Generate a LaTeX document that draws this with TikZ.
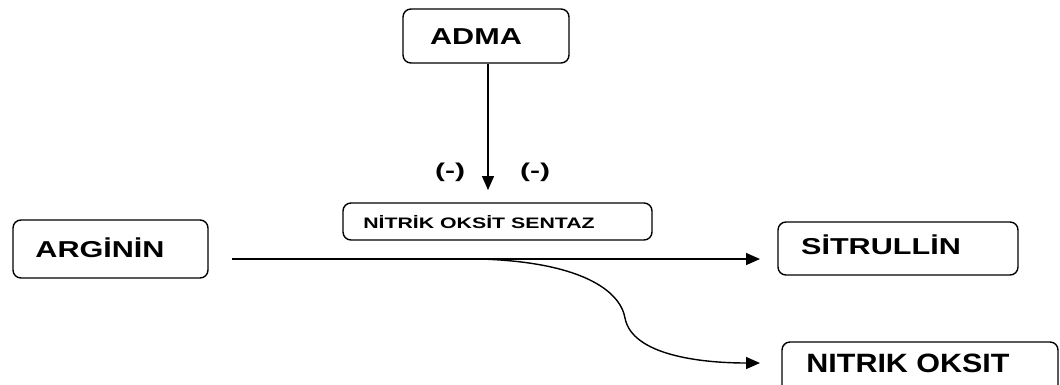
\documentclass[tikz,border=0pt]{standalone}
\usepackage{fontspec}
\setmainfont{Liberation Sans}
\newfontfamily\widefont[FakeStretch=1.33]{Liberation Sans}
\newfontfamily\xwidefont[FakeStretch=1.5]{Liberation Sans}
\newfontfamily\smallfont[FakeStretch=1.4]{Liberation Sans}
\newfontfamily\midfont[FakeStretch=1.15]{Liberation Sans}
\usetikzlibrary{arrows.meta}
\begin{document}
\begin{tikzpicture}[x=1pt,y=-1pt,
  box/.style={draw, line width=1.4pt, rounded corners=8pt, inner sep=0pt},
  big/.style={font=\widefont\bfseries\fontsize{23}{23}\selectfont, inner sep=0pt},
  small/.style={font=\smallfont\bfseries\fontsize{15.2}{15.2}\selectfont, inner sep=0pt},
  sign/.style={font=\xwidefont\bfseries\fontsize{20}{20}\selectfont, inner sep=0pt},
  conn/.style={line width=1.4pt, -{Triangle[length=14pt,width=12pt]}}]
\useasboundingbox (0,0) rectangle (1060,384);
\clip (0,0) rectangle (1060,384);
% boxes
\node[box, minimum width=166, minimum height=54] (adma) at (486,36) {};
\node[big] (admaT) at (476,37) {ADMA};
\node[box, minimum width=309, minimum height=37] (nos) at (497.5,221.5) {};
\node[small] (nosT) at (479,222) {NİTRİK OKSİT SENTAZ};
\node[box, minimum width=195, minimum height=58] (arg) at (110.5,249) {};
\node[big] (argT) at (100,248) {ARGİNİN};
\node[box, minimum width=240, minimum height=53] (sit) at (898,248.5) {};
\node[big] (sitT) at (881,245) {SİTRULLİN};
\node[box, minimum width=276, minimum height=70] (no) at (920,377) {};
\node[big, font=\midfont\bfseries\fontsize{26.5}{26.5}\selectfont] (noT) at (908,363) {NITRIK OKSIT};
% signs
\node[sign] (m1) at (450,172) {(-)};
\node[sign] (m2) at (535,172) {(-)};
% connectors
\coordinate (a0) at (232,259);
\coordinate (a1) at (760,259);
\coordinate (b0) at (480,259);
\coordinate (b1) at (760,363);
\coordinate (c1) at (488,190);
\draw[conn] (adma.south -| c1) -- (c1);
\draw[conn] (a0) -- (a1);
\draw[conn] (b0) .. controls (580,262) and (620,290) .. (625,318)
  .. controls (632,355) and (700,363) .. (b1);
\end{tikzpicture}
\end{document}
